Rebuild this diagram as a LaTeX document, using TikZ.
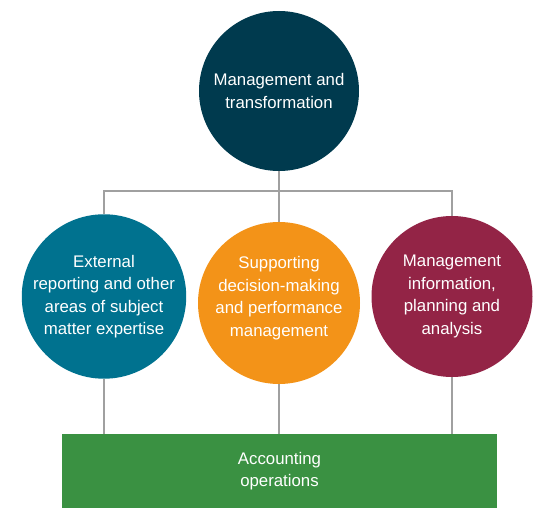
\documentclass[tikz,border=0pt]{standalone}
\usepackage{fontspec}
\setmainfont{Liberation Sans}
\usepackage{tikz}
\usetikzlibrary{positioning}

\definecolor{topblue}{HTML}{003A4E}
\definecolor{tealblue}{HTML}{00728F}
\definecolor{amber}{HTML}{F39318}
\definecolor{maroon}{HTML}{932446}
\definecolor{leafgreen}{HTML}{3A9142}
\definecolor{linegray}{HTML}{A0A0A0}

\begin{document}
\begin{tikzpicture}[x=1pt,y=-1pt,
                    words/.style={text=white,align=center,
                                  font=\fontsize{16.8}{22.5}\selectfont},
                    blob/.style={circle,inner sep=0pt,words},
                    link/.style={draw=linegray,line width=2.5pt}]
\useasboundingbox (0,0) rectangle (542,508);

\node[blob,fill=topblue,minimum size=160pt] (A) at (279,91)
      {Management and\\transformation};
\node[blob,fill=tealblue,minimum size=161pt] (B) at (104,296.5)
      {External\\reporting and other\\areas of subject\\matter expertise};
\node[blob,fill=amber,minimum size=162pt,
      label={[words,yshift=5pt]center:{Supporting\\decision-making\\and performance\\management}}]
      (C) at (279,303) {};
\node[blob,fill=maroon,minimum size=161pt] (D) at (452,296.5)
      {Management\\information,\\planning and\\analysis};
\node[words,fill=leafgreen,inner sep=0pt,
      minimum width=435pt,minimum height=74pt] (E) at (279.5,471)
      {Accounting\\operations};

\coordinate (bus) at (0,191);

  % tree on top
  \path[link] (A.south) -- (C.north)
	(B.north) -- (B.north |- bus) -- (D.north |- bus) -- (D.north);
  % legs down to the base
  \path[link] (B.south) -- (B.south |- E.north)
	(C.south) -- (C.south |- E.north)
	(D.south) -- (D.south |- E.north);
\end{tikzpicture}
\end{document}
